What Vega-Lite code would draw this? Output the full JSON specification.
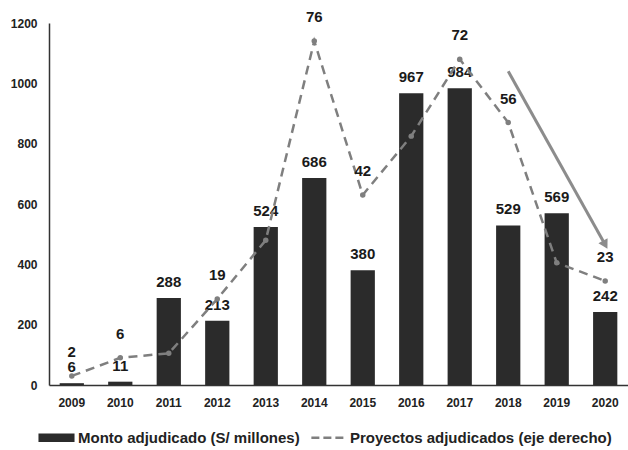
{
  "$schema": "https://vega.github.io/schema/vega-lite/v6.json",
  "width": 628,
  "height": 450,
  "autosize": {"type": "fit", "contains": "padding"},
  "padding": {"top": 14, "left": 10, "right": 0, "bottom": 4},
  "background": "white",
  "config": {
    "view": {"stroke": null},
    "font": "Liberation Sans",
    "text": {"font": "Liberation Sans", "fontWeight": "bold"},
    "axis": {"labelFont": "Liberation Sans", "labelFontWeight": "bold", "labelColor": "#222222"}
  },
  "datasets": {
    "main": [
      {"anio": "2009", "monto": 6, "proyectos": 2, "etiqueta": "2"},
      {"anio": "2010", "monto": 11, "proyectos": 6, "etiqueta": "6"},
      {"anio": "2011", "monto": 288, "proyectos": 7, "etiqueta": ""},
      {"anio": "2012", "monto": 213, "proyectos": 19, "etiqueta": "19"},
      {"anio": "2013", "monto": 524, "proyectos": 32, "etiqueta": ""},
      {"anio": "2014", "monto": 686, "proyectos": 76, "etiqueta": "76"},
      {"anio": "2015", "monto": 380, "proyectos": 42, "etiqueta": "42"},
      {"anio": "2016", "monto": 967, "proyectos": 55, "etiqueta": ""},
      {"anio": "2017", "monto": 984, "proyectos": 72, "etiqueta": "72"},
      {"anio": "2018", "monto": 529, "proyectos": 58, "etiqueta": "56"},
      {"anio": "2019", "monto": 569, "proyectos": 27, "etiqueta": ""},
      {"anio": "2020", "monto": 242, "proyectos": 23, "etiqueta": "23"}
    ],
    "flecha": [
      {"desde": "2018", "y1": 1040, "hasta": "2020", "y2": 465}
    ]
  },
  "data": {"name": "main"},
  "encoding": {
    "x": {
      "field": "anio", "type": "ordinal", "title": null,
      "scale": {"paddingInner": 0.5, "paddingOuter": 0.22},
      "axis": {"labelAngle": 0, "labelFontSize": 12, "labelPadding": 12, "ticks": false, "domainColor": "#333333", "domainWidth": 1.5}
    }
  },
  "layer": [
    {
      "layer": [
        {
          "mark": {"type": "bar", "color": "#2b2b2b"},
          "encoding": {
            "y": {
              "field": "monto", "type": "quantitative", "title": null,
              "scale": {"domain": [0, 1200]},
              "axis": {"values": [0, 200, 400, 600, 800, 1000, 1200], "format": "d", "grid": false, "ticks": false, "labelFontSize": 12, "labelPadding": 12, "domainColor": "#333333", "domainWidth": 1.5}
            },
            "color": {
              "datum": "Monto adjudicado (S/ millones)",
              "scale": {"domain": ["Monto adjudicado (S/ millones)", "Proyectos adjudicados (eje derecho)"], "range": ["#2b2b2b", "#7f7f7f"]},
              "legend": {
                "title": null, "orient": "bottom", "direction": "horizontal",
                "labelFontSize": 15, "labelFont": "Liberation Sans", "labelFontWeight": "bold", "labelColor": "#222222", "labelLimit": 0,
                "symbolSize": 1300, "columnPadding": 6, "labelOffset": 14, "offset": 22,
                "encode": {
                  "symbols": {
                    "update": {
                      "shape": {"signal": "datum.value === 'Monto adjudicado (S/ millones)' ? 'M-1,-0.24H1V0.24H-1Z' : 'M-0.95,0H0.95'"},
                      "fill": {"signal": "datum.value === 'Monto adjudicado (S/ millones)' ? '#2b2b2b' : 'transparent'"},
                      "stroke": {"signal": "datum.value === 'Monto adjudicado (S/ millones)' ? '#2b2b2b' : '#7f7f7f'"},
                      "strokeWidth": {"signal": "datum.value === 'Monto adjudicado (S/ millones)' ? 0 : 2.5"},
                      "strokeDash": {"signal": "datum.value === 'Monto adjudicado (S/ millones)' ? [1,0] : [8,4]"},
                      "opacity": {"value": 1}
                    }
                  }
                }
              }
            }
          }
        },
        {
          "mark": {"type": "text", "baseline": "bottom", "dy": -8, "fontSize": 15, "color": "#1a1a1a"},
          "encoding": {
            "y": {"field": "monto", "type": "quantitative"},
            "text": {"field": "monto", "type": "quantitative"}
          }
        },
        {
          "data": {"name": "flecha"},
          "mark": {"type": "rule", "color": "#8c8c8c", "strokeWidth": 3},
          "encoding": {
            "x": {"field": "desde", "type": "ordinal"},
            "x2": {"field": "hasta"},
            "y": {"field": "y1", "type": "quantitative"},
            "y2": {"field": "y2"}
          }
        },
        {
          "data": {"name": "flecha"},
          "mark": {"type": "point", "shape": "triangle-down", "filled": true, "color": "#8c8c8c", "size": 110, "angle": 331, "opacity": 1},
          "encoding": {
            "x": {"field": "hasta", "type": "ordinal"},
            "y": {"field": "y2", "type": "quantitative"}
          }
        }
      ]
    },
    {
      "layer": [
        {
          "mark": {"type": "line", "strokeWidth": 2.5, "strokeDash": [9, 6], "point": {"filled": true, "size": 30}},
          "encoding": {
            "y": {"field": "proyectos", "type": "quantitative", "scale": {"domain": [0, 80]}, "axis": null},
            "color": {"datum": "Proyectos adjudicados (eje derecho)"}
          }
        },
        {
          "mark": {"type": "text", "baseline": "bottom", "dy": -16, "fontSize": 15, "color": "#1a1a1a"},
          "encoding": {
            "y": {"field": "proyectos", "type": "quantitative"},
            "text": {"field": "etiqueta", "type": "nominal"}
          }
        }
      ]
    }
  ],
  "resolve": {"scale": {"y": "independent"}}
}
